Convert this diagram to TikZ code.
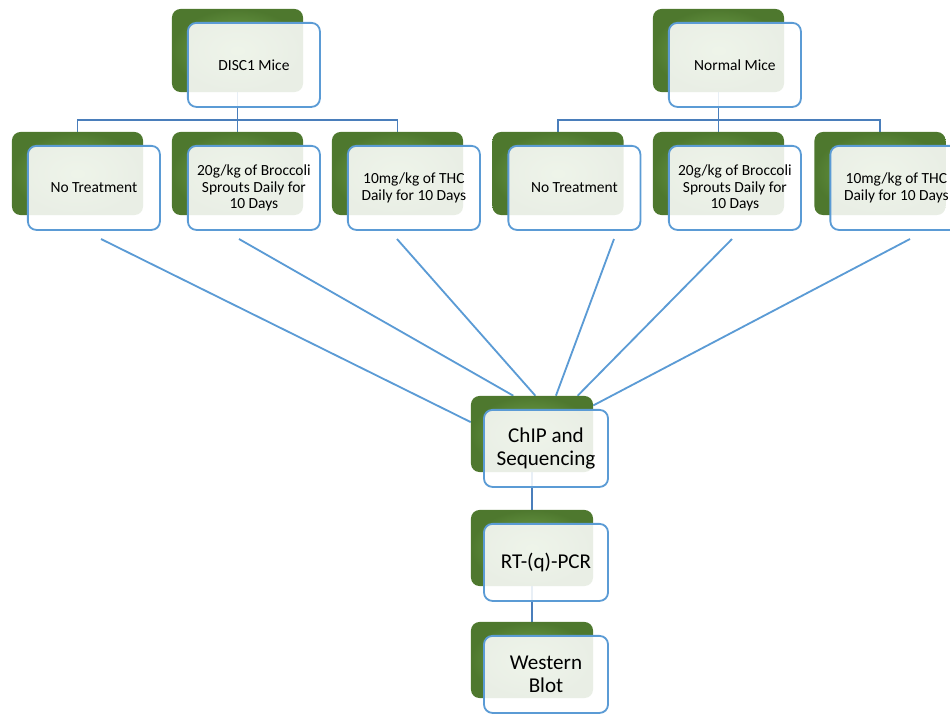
\documentclass[tikz,border=0pt]{standalone}
\usepackage{fontspec}
\setmainfont{Carlito}
\usetikzlibrary{positioning, calc, backgrounds}

\definecolor{leafdark}{RGB}{78,120,46}
\definecolor{leaflight}{RGB}{120,170,82}
\definecolor{edgeblue}{RGB}{91,155,213}
\definecolor{treeblue}{RGB}{74,126,187}

\begin{document}
\begin{tikzpicture}[x=0.025cm, y=-0.025cm,
    leaf/.style={rectangle, rounded corners=6pt, inner color=leaflight, outer color=leafdark,
        minimum width=3.275cm, minimum height=2.075cm},
    bigleaf/.style={leaf, minimum width=3.05cm, minimum height=1.9cm},
    cardbase/.style={rectangle, rounded corners=6pt, draw=edgeblue, line width=1.3pt, fill=white,
        fill opacity=0.88, text opacity=1, align=center},
    card/.style={cardbase, minimum width=3.3cm, minimum height=2.1cm,
        font=\fontsize{11}{12}\selectfont, xshift=0.41cm, yshift=-0.36cm},
    bigcard/.style={cardbase, minimum width=3.1cm, minimum height=1.925cm,
        font=\fontsize{15}{16.8}\selectfont, xshift=0.35cm, yshift=-0.36cm},
    tree/.style={treeblue, line width=1.4pt},
    fan/.style={edgeblue, line width=1.3pt}]
    \useasboundingbox (0,0) rectangle (950,713);

    % mice
    \node[leaf] (discg) at (237.5,50.5) {};
    \node[card] (disc) at (discg) {DISC1 Mice};
    \node[leaf] (normg) at (718.5,50.5) {};
    \node[card] (norm) at (normg) {Normal Mice};

    % treatments, DISC1 side
    \node[leaf] (dnog) at (77.5,173.5) {};
    \node[card] (dno) at (dnog) {No Treatment};
    \node[leaf] (dbrg) at (237.5,173.5) {};
    \node[card] (dbr) at (dbrg) {20g/kg of Broccoli\\Sprouts Daily for\\10 Days};
    \node[leaf] (dthcg) at (397.5,173.5) {};
    \node[card] (dthc) at (dthcg) {10mg/kg of THC\\Daily for 10 Days};

    % treatments, normal side
    \node[leaf] (nnog) at (558,173.5) {};
    \node[card] (nno) at (nnog) {No Treatment};
    \node[leaf] (nbrg) at (718.5,173.5) {};
    \node[card] (nbr) at (nbrg) {20g/kg of Broccoli\\Sprouts Daily for\\10 Days};
    \node[leaf] (nthcg) at (880,173.5) {};
    \node[card] (nthc) at (nthcg) {10mg/kg of THC\\Daily for 10 Days};

    % assays
    \node[bigleaf] (chipg) at (532,434) {};
    \node[bigcard] (chip) at (chipg) {ChIP and\\Sequencing};
    \node[bigleaf] (rtg) at (532,548) {};
    \node[bigcard] (rt) at (rtg) {RT-(q)-PCR};
    \node[bigleaf] (wbg) at (532,660) {};
    \node[bigcard] (wb) at (wbg) {Western\\Blot};

    % fan ends
    \coordinate (f1) at (101,239);
    \coordinate (f2) at (239,239);
    \coordinate (f3) at (397,239);
    \coordinate (f4) at (614,239);
    \coordinate (f5) at (732,239);
    \coordinate (f6) at (910,239);

    \begin{scope}[on background layer]
        \coordinate (dbar) at ($(discg.south)+(0,28)$);
        \coordinate (nbar) at ($(normg.south)+(0,28)$);
        \draw[tree] (discg.south) -- (dbrg.north);
        \draw[tree] (dnog.north) |- (dbar) -| (dthcg.north);
        \draw[tree] (normg.south) -- (nbrg.north);
        \draw[tree] (nnog.north) |- (nbar) -| (nthcg.north);

        \draw[fan] (f1) -- (chipg.169);
        \draw[fan] (f2) -- (chipg.116.6);
        \draw[fan] (f3) -- (chipg.85.5);
        \draw[fan] (f4) -- (chipg.58.8);
        \draw[fan] (f5) -- (chipg.40.8);
        \draw[fan] (f6) -- (chipg.25.4);

        \draw[tree] (chipg.south) -- (rtg.north);
        \draw[tree] (rtg.south) -- (wbg.north);
    \end{scope}
\end{tikzpicture}
\end{document}
